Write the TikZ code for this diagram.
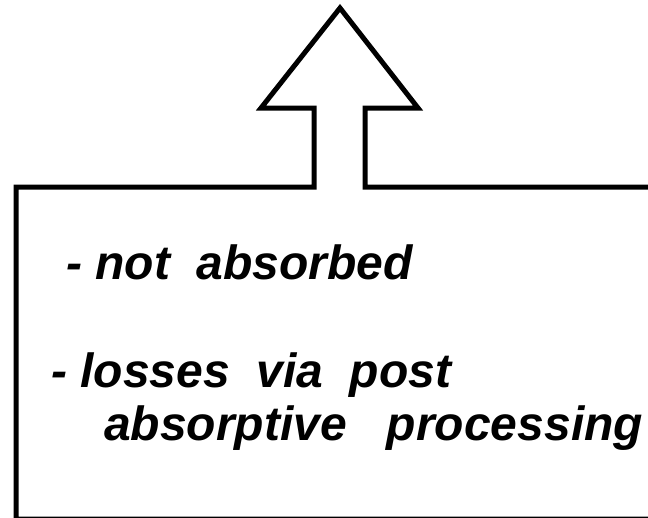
\documentclass[tikz,border=0pt]{standalone}
\usepackage{fontspec}
\setmainfont{Liberation Sans}
\begin{document}
\begin{tikzpicture}[x=1pt,y=-1pt,
  outline/.style={draw=black, line width=5pt, line join=miter},
  txt/.style={anchor=base west, inner sep=0pt, font=\fontsize{48}{53}\selectfont\bfseries\itshape}]
\useasboundingbox (0,0) rectangle (648,517);
\clip (0,0) rectangle (648,517);
\coordinate (bl) at (16,519);
\coordinate (tl) at (16,187);
\coordinate (sl) at (314,187);
\coordinate (hl) at (314,108);
\coordinate (wl) at (261,108);
\coordinate (tip) at (340,8);
\coordinate (wr) at (418,108);
\coordinate (hr) at (365,108);
\coordinate (sr) at (365,187);
\coordinate (tr) at (662,187);
\coordinate (br) at (662,519);
\draw[outline] (bl) -- (tl) -- (sl) -- (hl) -- (wl) -- (tip) -- (wr) -- (hr) -- (sr) -- (tr) -- (br) -- cycle;
\node[txt] (l1) at (66,279) {- not\ \ absorbed};
\node[txt] (l2) at (51,387) {- losses\ \ via\ \ post};
\node[txt] (l3) at (104,440) {absorptive\ \ \ processing};
\end{tikzpicture}
\end{document}
